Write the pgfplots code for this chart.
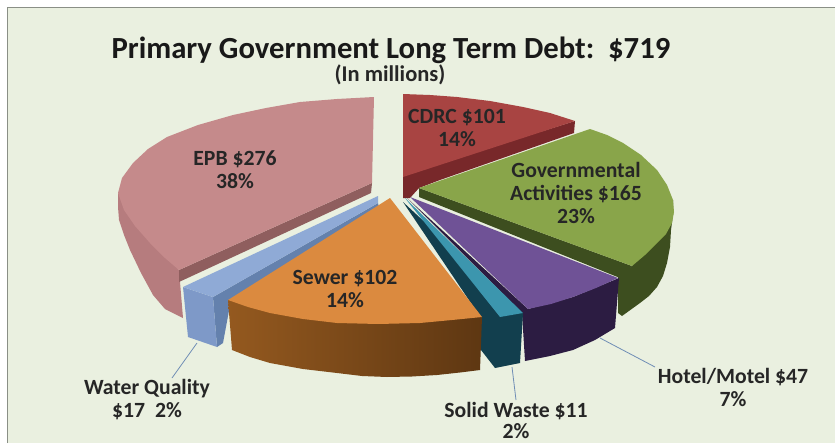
\documentclass[border=0pt]{standalone}
\usepackage{pgfplots}
\pgfplotsset{compat=1.18}
\usepackage{fontspec}
\setmainfont{Carlito}
\definecolor{panel}{HTML}{EAF0E0}
\definecolor{frameline}{HTML}{8A8F86}
\definecolor{leader}{HTML}{6F8DB5}
\definecolor{epbtop}{HTML}{C58A8B}
\definecolor{epbwall}{HTML}{B67C7E}
\definecolor{epbin}{HTML}{8F5E5E}
\definecolor{cdrctop}{HTML}{A84442}
\definecolor{cdrcwall}{HTML}{78282A}
\definecolor{govtop}{HTML}{89A54A}
\definecolor{govwall}{HTML}{3D4E1F}
\definecolor{hoteltop}{HTML}{6F5296}
\definecolor{hotelwall}{HTML}{2C1C42}
\definecolor{solidtop}{HTML}{3C96AE}
\definecolor{solidwall}{HTML}{123F4E}
\definecolor{watertop}{HTML}{8FAAD6}
\definecolor{waterface}{HTML}{7E99C8}
\definecolor{waterside}{HTML}{6481AD}
\definecolor{sewertop}{HTML}{DB8A3F}
\definecolor{sewerleft}{HTML}{94591F}
\definecolor{sewerright}{HTML}{5E3712}
\begin{document}
\begin{tikzpicture}
\begin{axis}[
  scale only axis, width=835pt, height=444pt,
  xmin=0, xmax=835, ymin=0, ymax=444, y dir=reverse,
  axis lines=none, clip=true,
  every axis plot/.append style={draw=none, sharp plot, mark=none}
]
% white page, then the panel behind the pie
\addplot[fill=white] coordinates {(0,0)(835,0)(835,444)(0,444)};
\addplot[fill=panel] coordinates {(7,8)(835,8)(835,443)(7,443)};
\addplot[draw=frameline, line width=1pt] coordinates {(7,443)(7,8)(835,8)};

% EPB $276
\addplot[fill=epbwall] coordinates {(118,193)(118,207)(119,220)(124,235)(130,250)(141,273)(153,295)(165,309)(183,318)(179,270)};
\addplot[fill=epbin] coordinates {(372,183)(179,270)(179,282)(371,193)};
\addplot[fill=epbtop] coordinates {(374,97)(372,183)(179,270)(165,258)(150,243)(135,226)(124,210)(118,193)(122,178)(133,163)(148,149)(167,137)(198,125)(233,115)(266,108)(300,102)(337,99)};

% CDRC $101
\addplot[fill=cdrcwall] coordinates {(403,175)(575,121)(574,133)(440,180)(419,188)(410,198)(403,198)};
\addplot[fill=cdrctop] coordinates {(403,94)(430,95)(457,97)(490,101)(523,107)(550,113)(575,121)(403,177)};

% Governmental Activities $165
\addplot[fill=govwall] coordinates {(673,200)(673,215)(671,230)(670,247)(667,263)(663,276)(657,287)(649,296)(640,303)(622,316)(618,313)(618,277)(632,266)};
\addplot[fill=govwall] coordinates {(419,188)(632,266)(620,278)(419,197)};
\addplot[fill=govtop] coordinates {(419,188)(590,129)(607,135)(623,143)(641,155)(657,170)(667,185)(673,200)(674,212)(672,223)(666,234)(657,243)(645,255)(632,266)};

% Hotel/Motel $47
\addplot[fill=hotelwall] coordinates {(407,198)(528,309)(573,297)(619,278)(615,328)(595,340)(573,350)(550,356)(525,361)(522,313)};
\addplot[fill=hoteltop] coordinates {(410,197)(618,278)(596,288)(573,297)(551,304)(528,309)};

% Solid Waste $11
\addplot[fill=solidwall] coordinates {(403,202)(523,313)(520,363)(495,368)(481,350)(481,318)};
\addplot[fill=solidtop] coordinates {(405,198)(523,313)(500,317)};

% Water Quality $17
\addplot[fill=waterside] coordinates {(213,297)(378,203)(379,208)(231,300)(223,343)(217,347)};
\addplot[fill=waterface] coordinates {(183,287)(213,297)(217,347)(188,337)};
\addplot[fill=watertop] coordinates {(378,196)(183,287)(213,297)(378,203)};

% Sewer $102
\addplot[left color=sewerleft, right color=sewerright] coordinates {(228,300)(232,350)(250,357)(270,363)(303,369)(337,373)(362,376)(387,377)(412,376.5)(437,375)(460,372.5)(480,370)(482,317)};
\addplot[fill=sewertop] coordinates {(390,198)(228,300)(248,307)(270,313)(303,319)(337,323)(378,324)(420,323)(452,320)(482,317)};

% leader lines
\addplot[draw=leader, line width=0.8pt] coordinates {(197,343)(172,378)};
\addplot[draw=leader, line width=0.8pt] coordinates {(512,367)(516,400)};
\addplot[draw=leader, line width=0.8pt] coordinates {(600,338)(655,367)};

% labels
\node[font=\bfseries\fontsize{30.7}{34}\selectfont, text=black!90] at (axis cs:391,50) {Primary Government Long Term Debt:\ \ \$719};
\node[font=\bfseries\fontsize{22.5}{24}\selectfont, text=black!85] at (axis cs:390,75) {(In millions)};
\tikzset{lab/.style={font=\bfseries\fontsize{21.7}{23}\selectfont, text=black!85, align=center, inner sep=0pt}}
\node[lab] at (axis cs:457,128) {CDRC \$101\\14\%};
\node[lab] at (axis cs:576,193) {Governmental\\Activities \$165\\23\%};
\node[lab] at (axis cs:235,170) {EPB \$276\\38\%};
\node[lab] at (axis cs:345,289) {Sewer \$102\\14\%};
\node[lab] at (axis cs:147,400) {Water Quality\\\$17\ \ 2\%};
\node[lab, font=\bfseries\fontsize{21.7}{21.5}\selectfont] at (axis cs:516,420.5) {Solid Waste \$11\\2\%};
\node[lab] at (axis cs:733,387) {Hotel/Motel \$47\\7\%};
\end{axis}
\end{tikzpicture}
\end{document}
